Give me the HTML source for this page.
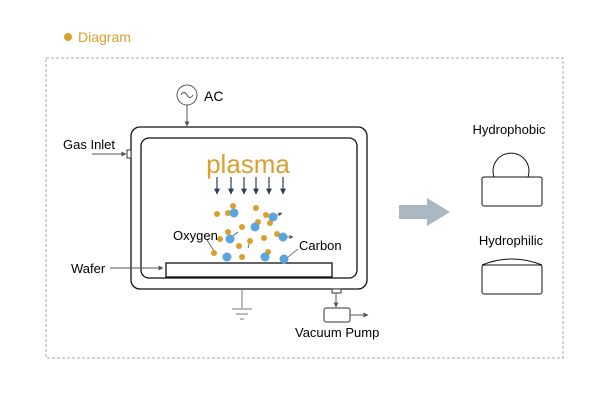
<!DOCTYPE html>
<html><head><style>
body{margin:0;background:#fff;}
svg{display:block;font-family:"Liberation Sans",sans-serif;}
</style></head><body>
<svg width="600" height="400" viewBox="0 0 600 400">
<defs>
<marker id="a" viewBox="0 0 10 10" refX="9" refY="5" markerWidth="5" markerHeight="5" orient="auto"><path d="M0,0L10,5L0,10z" fill="#555"/></marker>
<marker id="d" viewBox="0 0 10 10" refX="9" refY="5" markerWidth="5" markerHeight="5" orient="auto"><path d="M0,0L10,5L0,10z" fill="#2d3e50"/></marker>
</defs>
<circle cx="68" cy="37" r="4" fill="#d9a030"/>
<text x="78" y="42" font-size="14" fill="#d9a030">Diagram</text>
<rect x="46" y="58" width="517" height="300" fill="none" stroke="#aaa" stroke-dasharray="3,2"/>
<circle cx="187" cy="95" r="10" fill="#fff" stroke="#555"/>
<path d="M181,95 q3,-5 6,0 q3,5 6,0" fill="none" stroke="#555"/>
<text x="204" y="101" font-size="14">AC</text>
<line x1="187" y1="105" x2="187" y2="126" stroke="#555" marker-end="url(#a)"/>
<rect x="131" y="127" width="236" height="162" rx="9" fill="#fff" stroke="#111" stroke-width="1.3"/>
<rect x="141" y="138" width="216" height="140" rx="8" fill="#fff" stroke="#111" stroke-width="1.3"/>
<rect x="127" y="150" width="4" height="8" fill="#fff" stroke="#333"/>
<line x1="92" y1="154" x2="126" y2="154" stroke="#555" marker-end="url(#a)"/>
<text x="63" y="149" font-size="13">Gas Inlet</text>
<rect x="166" y="263" width="166" height="14" fill="#fff" stroke="#111" stroke-width="1.3"/>
<line x1="110" y1="268" x2="163" y2="268" stroke="#555" marker-end="url(#a)"/>
<text x="71" y="273" font-size="13">Wafer</text>
<text x="248" y="173" font-size="26" fill="#d9a030" text-anchor="middle">plasma</text>
<g stroke="#2d3e50" stroke-width="1.2" marker-end="url(#d)">
<line x1="217" y1="177" x2="217" y2="194"/><line x1="231" y1="177" x2="231" y2="194"/><line x1="244" y1="177" x2="244" y2="194"/><line x1="256" y1="177" x2="256" y2="194"/><line x1="269" y1="177" x2="269" y2="194"/><line x1="283" y1="177" x2="283" y2="194"/>
</g>
<g stroke="#555" stroke-width="0.8" fill="none">
<line x1="273" y1="217" x2="282" y2="213" marker-end="url(#a)"/>
<line x1="283" y1="237" x2="293" y2="237" marker-end="url(#a)"/>
<line x1="230" y1="238" x2="238" y2="232"/>
<line x1="250" y1="241" x2="248" y2="248"/>
<line x1="207" y1="240" x2="214" y2="251"/>
<line x1="288" y1="257" x2="298" y2="249"/>
</g>
<g fill="#d9a030">
<circle cx="217" cy="214" r="3"/><circle cx="228" cy="213" r="3"/><circle cx="233" cy="206" r="3"/><circle cx="256" cy="208" r="3"/><circle cx="266" cy="215" r="3"/><circle cx="270" cy="223" r="3"/><circle cx="258" cy="222" r="3"/><circle cx="242" cy="227" r="3"/><circle cx="228" cy="232" r="3"/><circle cx="220" cy="239" r="3"/><circle cx="239" cy="246" r="3"/><circle cx="250" cy="241" r="3"/><circle cx="264" cy="238" r="3"/><circle cx="277" cy="234" r="3"/><circle cx="214" cy="253" r="3"/><circle cx="242" cy="257" r="3"/><circle cx="268" cy="252" r="3"/>
</g>
<g fill="#5aa6dc">
<circle cx="234" cy="213" r="4.5"/><circle cx="273" cy="217" r="4.5"/><circle cx="255" cy="227" r="4.5"/><circle cx="230" cy="239" r="4.5"/><circle cx="283" cy="237" r="4.5"/><circle cx="227" cy="257" r="4.5"/><circle cx="265" cy="257" r="4.5"/><circle cx="284" cy="259" r="4.5"/>
</g>
<text x="173" y="240" font-size="13">Oxygen</text>
<text x="299" y="250" font-size="13">Carbon</text>
<line x1="242" y1="289" x2="242" y2="308" stroke="#777"/>
<line x1="232" y1="309" x2="252" y2="309" stroke="#777"/>
<line x1="236" y1="314" x2="248" y2="314" stroke="#777"/>
<line x1="240" y1="319" x2="244" y2="319" stroke="#777"/>
<rect x="332" y="289" width="9" height="4" fill="#fff" stroke="#333"/>
<line x1="336" y1="293" x2="336" y2="307" stroke="#555" marker-end="url(#a)"/>
<rect x="324" y="308" width="26" height="14" rx="2" fill="#fff" stroke="#333"/>
<line x1="350" y1="315" x2="368" y2="315" stroke="#555" marker-end="url(#a)"/>
<text x="295" y="337" font-size="13">Vacuum Pump</text>
<path d="M399,205 H427 V198 L450,212 L427,226 V219 H399z" fill="#a9b8c2"/>
<text x="509" y="134" font-size="13" text-anchor="middle">Hydrophobic</text>
<path d="M494,177 A18,18 0 1 1 528,177" fill="#fff" stroke="#111"/>
<rect x="482" y="177" width="60" height="29" rx="2" fill="#fff" stroke="#111"/>
<text x="511" y="245" font-size="13" text-anchor="middle">Hydrophilic</text>
<path d="M482,265 Q512,253 542,265" fill="#fff" stroke="#111"/>
<rect x="482" y="265" width="60" height="29" rx="2" fill="#fff" stroke="#111"/>
</svg>
</body></html>
